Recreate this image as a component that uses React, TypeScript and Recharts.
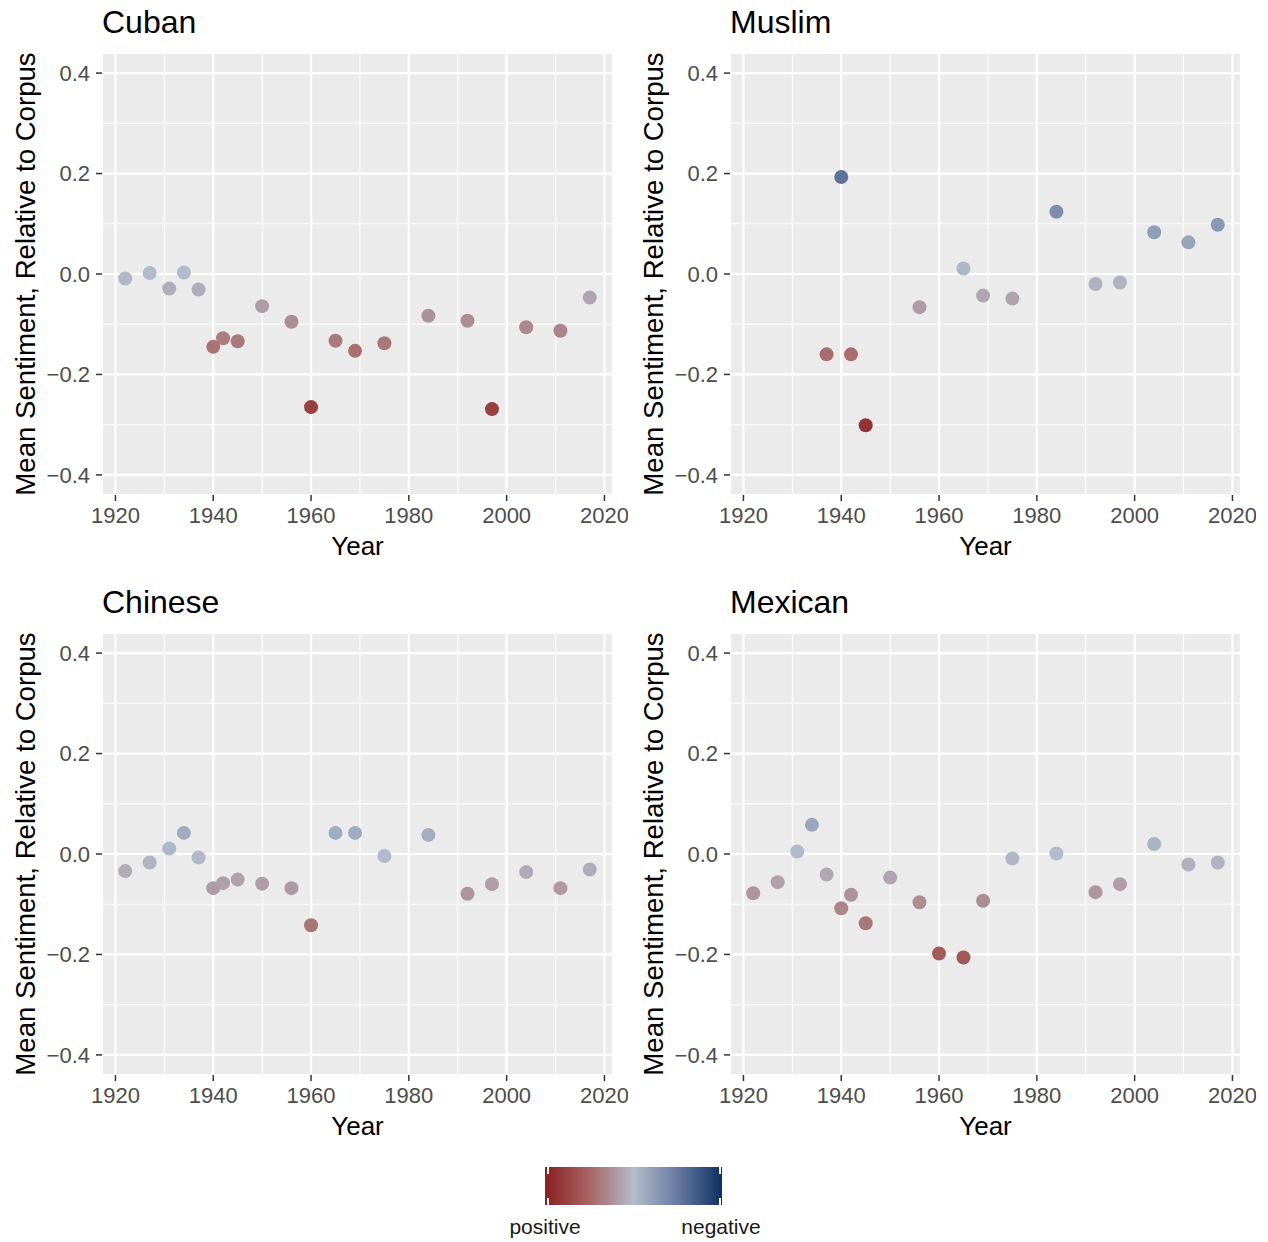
import React from "react";
import {
  ScatterChart,
  Scatter,
  XAxis,
  YAxis,
  CartesianGrid,
} from "recharts";

// years shared by all four panels
const years = [
  1922, 1927, 1931, 1934, 1937, 1940, 1942, 1945, 1950, 1956,
  1960, 1965, 1969, 1975, 1984, 1992, 1997, 2004, 2011, 2017,
];

const cuban = [
  -0.009, 0.002, -0.029, 0.003, -0.031, -0.145, -0.128, -0.134, -0.064, -0.095,
  -0.265, -0.133, -0.153, -0.138, -0.083, -0.093, -0.269, -0.106, -0.113, -0.047,
];

// no Muslim values before 1937
const muslim = [
  null, null, null, null, -0.16, 0.193, -0.16, -0.301, null, -0.066,
  null, 0.011, -0.043, -0.049, 0.124, -0.02, -0.017, 0.083, 0.063, 0.098,
];

const chinese = [
  -0.034, -0.017, 0.011, 0.042, -0.007, -0.068, -0.058, -0.051, -0.059, -0.068,
  -0.142, 0.042, 0.042, -0.004, 0.038, -0.079, -0.06, -0.036, -0.068, -0.031,
];

const mexican = [
  -0.078, -0.056, 0.005, 0.058, -0.041, -0.108, -0.081, -0.138, -0.047, -0.096,
  -0.198, -0.206, -0.093, -0.009, 0.001, -0.076, -0.06, 0.02, -0.021, -0.017,
];

const xTicks = [1920, 1940, 1960, 1980, 2000, 2020];
const xMinor = [1930, 1950, 1970, 1990, 2010];
const yTicks = [-0.4, -0.2, 0, 0.2, 0.4];
const yMinor = [-0.3, -0.1, 0.1, 0.3];
const xDomain = [1917.25, 2021.75];
const yDomain = [-0.44, 0.44];

const FONT = '"Liberation Sans", Arial, sans-serif';

// diverging scale: red (low) -> light grey-blue -> navy (high)
const STOPS: [number, number[]][] = [
  [-0.35, [139, 32, 32]],
  [-0.175, [168, 100, 100]],
  [0, [178, 188, 203]],
  [0.175, [104, 122, 160]],
  [0.35, [13, 47, 98]],
];

function colorFor(v: number) {
  const x = Math.max(-0.35, Math.min(0.35, v));
  for (let i = 0; i < STOPS.length - 1; i++) {
    const [a, ca] = STOPS[i];
    const [b, cb] = STOPS[i + 1];
    if (x >= a && x <= b) {
      const t = (x - a) / (b - a);
      const c = ca.map((k, j) => Math.round(k + (cb[j] - k) * t));
      return `rgb(${c[0]},${c[1]},${c[2]})`;
    }
  }
  return "rgb(178,188,203)";
}

const fmtY = (v: number) =>
  v === 0 ? "0.0" : v < 0 ? `\u2212${Math.abs(v).toFixed(1)}` : v.toFixed(1);

// minor grid positions, from the axis scale when it is callable
const minorY = ({ yAxis, offset }: any) =>
  yMinor.map((v) =>
    typeof yAxis?.scale === "function"
      ? yAxis.scale(v)
      : offset.top + ((yDomain[1] - v) / (yDomain[1] - yDomain[0])) * offset.height
  );
const minorX = ({ xAxis, offset }: any) =>
  xMinor.map((v) =>
    typeof xAxis?.scale === "function"
      ? xAxis.scale(v)
      : offset.left + ((v - xDomain[0]) / (xDomain[1] - xDomain[0])) * offset.width
  );

const Dot = (props: any) => {
  const { cx, cy, payload } = props;
  if (cx == null || cy == null) return null;
  return <circle cx={cx} cy={cy} r={7} fill={colorFor(payload.value)} />;
};

interface PanelProps {
  title: string;
  values: (number | null)[];
  left: number;
  top: number;
}

function Panel({ title, values, left, top }: PanelProps) {
  const data = years
    .map((year, i) => ({ year, value: values[i] }))
    .filter((d) => d.value !== null);

  return (
    <div
      style={{
        position: "absolute",
        left,
        top,
        width: 628,
        height: 570,
        fontFamily: FONT,
      }}
    >
      <div
        style={{
          position: "absolute",
          left: 102,
          top: 6,
          fontSize: 32,
          lineHeight: 1,
          color: "#000",
        }}
      >
        {title}
      </div>
      <div
        style={{
          position: "absolute",
          left: 25.5,
          top: 274,
          transform: "translate(-50%, -50%) rotate(-90deg)",
          whiteSpace: "nowrap",
          fontSize: 27.6,
          lineHeight: 1,
          color: "#000",
        }}
      >
        Mean Sentiment, Relative to Corpus
      </div>
      <div
        style={{
          position: "absolute",
          left: 357.5,
          top: 533,
          transform: "translateX(-50%)",
          fontSize: 26,
          lineHeight: 1,
          color: "#000",
        }}
      >
        Year
      </div>
      <ScatterChart
        width={628}
        height={560}
        margin={{ top: 53, right: 15, bottom: 0, left: 0 }}
        style={{ overflow: "visible" }}
      >
        <CartesianGrid
          fill="#EBEBEB"
          stroke="#FFFFFF"
          strokeWidth={1.1}
          horizontalCoordinatesGenerator={minorY}
          verticalCoordinatesGenerator={minorX}
        />
        <CartesianGrid stroke="#FFFFFF" strokeWidth={2.2} fill="none" />
        <XAxis
          type="number"
          dataKey="year"
          domain={xDomain}
          ticks={xTicks}
          allowDataOverflow
          height={65}
          axisLine={false}
          tickSize={6}
          tickMargin={6}
          tickLine={{ stroke: "#333333", strokeWidth: 1.5 }}
          tick={{ fill: "#4D4D4D", fontSize: 22, fontFamily: FONT }}
        />
        <YAxis
          type="number"
          dataKey="value"
          domain={yDomain}
          ticks={yTicks}
          allowDataOverflow
          width={102}
          axisLine={false}
          tickSize={6}
          tickMargin={6}
          tickFormatter={fmtY}
          tickLine={{ stroke: "#333333", strokeWidth: 1.5 }}
          tick={{ fill: "#4D4D4D", fontSize: 22, fontFamily: FONT }}
        />
        <Scatter data={data} isAnimationActive={false} shape={Dot} />
      </ScatterChart>
    </div>
  );
}

function ColorBar() {
  const tick = (left: number, top: number) => (
    <div
      style={{
        position: "absolute",
        left,
        top,
        width: 1.5,
        height: 7,
        background: "#FFFFFF",
      }}
    />
  );
  return (
    <div style={{ position: "absolute", left: 0, top: 0, fontFamily: FONT }}>
      <div
        style={{
          position: "absolute",
          left: 545,
          top: 1167,
          width: 177,
          height: 38,
          background:
            "linear-gradient(to right, #8B2020, #A86464 25%, #B2BCCB 50%, #687AA0 75%, #0D2F62)",
        }}
      />
      {tick(547, 1167)}
      {tick(547, 1198)}
      {tick(719, 1167)}
      {tick(719, 1198)}
      <div
        style={{
          position: "absolute",
          left: 545,
          top: 1216,
          transform: "translateX(-50%)",
          fontSize: 21,
          lineHeight: 1,
          color: "#1A1A1A",
        }}
      >
        positive
      </div>
      <div
        style={{
          position: "absolute",
          left: 721,
          top: 1216,
          transform: "translateX(-50%)",
          fontSize: 21,
          lineHeight: 1,
          color: "#1A1A1A",
        }}
      >
        negative
      </div>
    </div>
  );
}

export default function App() {
  return (
    <div
      style={{
        position: "absolute",
        left: 0,
        top: 0,
        width: 1268,
        height: 1242,
        background: "#FFFFFF",
      }}
    >
      <Panel title="Cuban" values={cuban} left={0} top={0} />
      <Panel title="Muslim" values={muslim} left={628} top={0} />
      <Panel title="Chinese" values={chinese} left={0} top={580} />
      <Panel title="Mexican" values={mexican} left={628} top={580} />
      <ColorBar />
    </div>
  );
}
